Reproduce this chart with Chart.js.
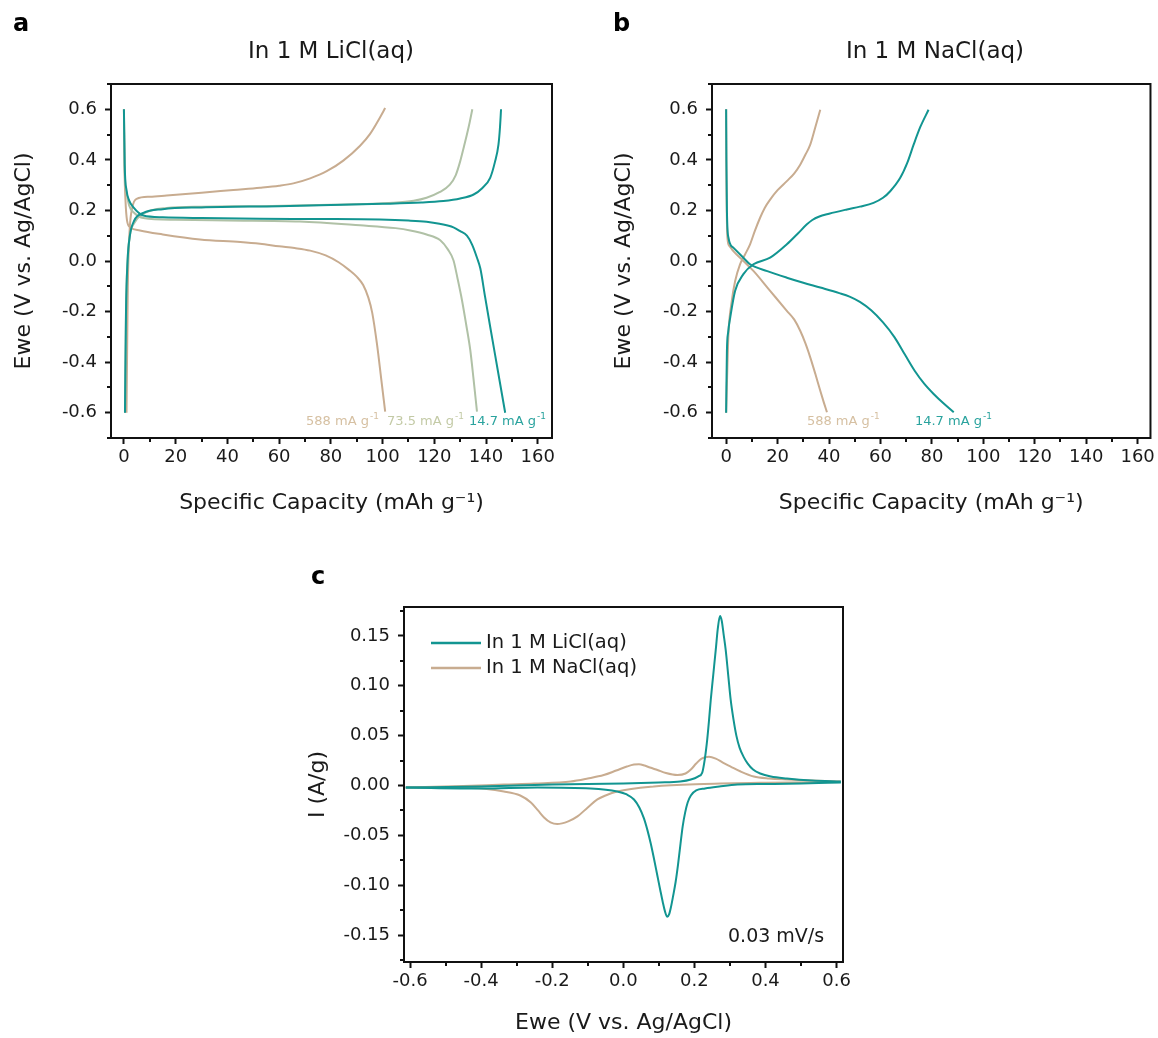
<!DOCTYPE html>
<html><head><meta charset="utf-8">
<script src="https://cdn.jsdelivr.net/npm/chart.js@4.4.1/dist/chart.umd.min.js"></script>
<style>
html,body{margin:0;padding:0;background:#fff;}
#wrap{position:relative;width:1158px;height:1038px;overflow:hidden;background:#fff;}
canvas{position:absolute;display:block;}
</style></head><body>
<div id="wrap">
<canvas id="ca" width="580" height="540" style="left:0;top:0;width:580px;height:540px"></canvas>
<canvas id="cb" width="558" height="540" style="left:600px;top:0;width:558px;height:540px"></canvas>
<canvas id="cc" width="558" height="478" style="left:300px;top:560px;width:558px;height:478px"></canvas>
</div>
<script>
// ---------- Panel a: 1 M LiCl, galvanostatic charge/discharge ----------
const li147ChgCap = [0.4, 0.8, 1.4, 2.3, 4, 7.5, 15, 30, 60, 100, 115, 123.5, 130, 135.2, 138.5, 141.6, 143.4, 144.8, 145.4, 145.8];
const li147ChgV   = [-0.6, -0.2, 0.0, 0.1, 0.16, 0.19, 0.205, 0.212, 0.217, 0.226, 0.231, 0.237, 0.247, 0.263, 0.288, 0.329, 0.39, 0.46, 0.53, 0.6];
const li147DisCap = [0, 0.3, 1, 2, 3.6, 7.5, 15, 30, 52.6, 75, 99, 110, 117, 122, 127.4, 130, 132.6, 134.6, 136.5, 137.8, 139.6, 141.6, 144.5, 147.4];
const li147DisV   = [0.6, 0.38, 0.28, 0.24, 0.213, 0.18, 0.173, 0.17, 0.167, 0.166, 0.164, 0.16, 0.155, 0.147, 0.133, 0.118, 0.1, 0.065, 0.013, -0.03, -0.14, -0.26, -0.43, -0.6];
const li735ChgCap = [0.4, 0.8, 1.4, 2.3, 4, 7.5, 16.5, 30, 52.6, 80, 104, 112, 117, 122, 126, 128.3, 130, 131.4, 132.6, 133.7, 134.7];
const li735ChgV   = [-0.6, -0.2, 0.0, 0.1, 0.15, 0.187, 0.21, 0.215, 0.217, 0.222, 0.23, 0.238, 0.25, 0.272, 0.302, 0.34, 0.394, 0.45, 0.5, 0.55, 0.6];
const li735DisCap = [0, 0.3, 1, 2, 4, 7.5, 20, 40, 68, 91.3, 105, 110.7, 117, 122.3, 125.3, 127.4, 129, 130.7, 132.3, 133.9, 135.2, 136.5];
const li735DisV   = [0.6, 0.36, 0.27, 0.22, 0.19, 0.17, 0.163, 0.16, 0.156, 0.141, 0.13, 0.121, 0.105, 0.082, 0.045, 0.003, -0.07, -0.155, -0.25, -0.352, -0.47, -0.596];
const li588ChgCap = [1, 1.5, 2.2, 3.2, 4.9, 10, 16.5, 30, 42.3, 52.6, 60, 65.5, 72, 78.4, 84.8, 91.3, 95.1, 99, 101];
const li588ChgV   = [-0.6, -0.1, 0.12, 0.21, 0.246, 0.254, 0.259, 0.27, 0.281, 0.29, 0.298, 0.307, 0.327, 0.355, 0.397, 0.456, 0.502, 0.568, 0.605];
const li588DisCap = [0, 0.2, 0.6, 1.2, 2.4, 6.2, 15, 29.4, 45, 52.6, 60, 66, 72, 78, 83, 87, 90, 92.5, 94.5, 96, 97.8, 99.4, 101];
const li588DisV   = [0.6, 0.38, 0.24, 0.16, 0.134, 0.121, 0.105, 0.085, 0.075, 0.068, 0.058, 0.051, 0.041, 0.022, -0.005, -0.035, -0.062, -0.095, -0.145, -0.205, -0.326, -0.46, -0.596];

// ---------- Panel b: 1 M NaCl ----------
const na147ChgCap = [0, 0.1, 0.3, 0.8, 1.6, 3.5, 6.7, 10.6, 17.1, 23.6, 28, 31.4, 33.5, 36, 40, 47, 52, 57.3, 61, 63.8, 67.7, 70.5, 72.9, 75.5, 78.7];
const na147ChgV   = [-0.6, -0.5, -0.355, -0.28, -0.223, -0.118, -0.052, -0.013, 0.013, 0.066, 0.11, 0.145, 0.162, 0.175, 0.187, 0.204, 0.215, 0.23, 0.25, 0.276, 0.329, 0.39, 0.46, 0.53, 0.598];
const na147DisCap = [0, 0.1, 0.3, 0.9, 2.8, 6.7, 9.3, 16, 23.6, 30, 36.6, 44, 48, 52, 56.4, 61, 65.5, 69.5, 73.3, 77, 80.7, 84.5, 88.5];
const na147DisV   = [0.6, 0.4, 0.2, 0.092, 0.053, 0.013, -0.013, -0.04, -0.066, -0.086, -0.105, -0.127, -0.141, -0.162, -0.195, -0.243, -0.302, -0.37, -0.434, -0.485, -0.526, -0.563, -0.598];
const na588ChgCap = [0, 0.3, 0.9, 2.2, 3.5, 5.4, 7.3, 9.3, 11.2, 13.2, 15, 17.1, 20, 23.6, 26.5, 28.8, 30.8, 32.7, 34.7, 36.6];
const na588ChgV   = [-0.6, -0.486, -0.289, -0.158, -0.079, -0.013, 0.025, 0.066, 0.12, 0.171, 0.21, 0.243, 0.28, 0.316, 0.347, 0.381, 0.42, 0.46, 0.53, 0.598];
const na588DisCap = [0, 0.1, 0.5, 1.2, 2.8, 6.7, 10.6, 17.1, 23.6, 26.5, 28.8, 30.8, 32.7, 34.7, 36.6, 38, 39.2];
const na588DisV   = [0.6, 0.35, 0.092, 0.06, 0.039, 0.0, -0.039, -0.118, -0.197, -0.232, -0.276, -0.325, -0.381, -0.447, -0.513, -0.56, -0.598];

// ---------- Panel c: CV at 0.03 mV/s ----------
const liAnodicE   = [-0.612, -0.4, -0.2, 0.0, 0.1, 0.16, 0.19, 0.21, 0.222, 0.229, 0.236, 0.241, 0.246, 0.253, 0.26, 0.266, 0.272, 0.277, 0.282, 0.288, 0.295, 0.302, 0.31, 0.318, 0.327, 0.338, 0.35, 0.365, 0.385, 0.415, 0.46, 0.53, 0.612];
const liAnodicI   = [-0.002, -0.001, 0.001, 0.002, 0.003, 0.004, 0.006, 0.009, 0.013, 0.026, 0.046, 0.065, 0.086, 0.111, 0.136, 0.158, 0.170, 0.165, 0.152, 0.136, 0.111, 0.086, 0.066, 0.05, 0.038, 0.029, 0.022, 0.016, 0.012, 0.009, 0.007, 0.005, 0.004];
const liCathodicE = [-0.612, -0.4, -0.242, -0.092, -0.017, 0.01, 0.03, 0.045, 0.058, 0.068, 0.077, 0.086, 0.095, 0.104, 0.111, 0.117, 0.1237, 0.129, 0.134, 0.14, 0.147, 0.154, 0.161, 0.167, 0.174, 0.181, 0.19, 0.205, 0.23, 0.27, 0.321, 0.4, 0.5, 0.612];
const liCathodicI = [-0.002, -0.003, -0.002, -0.003, -0.006, -0.009, -0.014, -0.022, -0.033, -0.045, -0.058, -0.073, -0.089, -0.105, -0.117, -0.126, -0.1317, -0.129, -0.122, -0.111, -0.097, -0.079, -0.058, -0.041, -0.027, -0.017, -0.01, -0.005, -0.003, -0.001, 0.001, 0.0015, 0.002, 0.003];
const naAnodicE   = [-0.612, -0.45, -0.336, -0.25, -0.148, -0.1, -0.055, -0.02, 0.01, 0.03, 0.044, 0.06, 0.075, 0.096, 0.12, 0.152, 0.175, 0.19, 0.205, 0.22, 0.241, 0.26, 0.28, 0.302, 0.33, 0.367, 0.41, 0.461, 0.53, 0.612];
const naAnodicI   = [-0.002, -0.0005, 0.001, 0.002, 0.004, 0.007, 0.0105, 0.015, 0.019, 0.021, 0.0213, 0.02, 0.018, 0.0155, 0.0125, 0.0105, 0.012, 0.016, 0.022, 0.027, 0.0289, 0.027, 0.023, 0.019, 0.014, 0.009, 0.007, 0.006, 0.005, 0.004];
const naCathodicE = [-0.612, -0.429, -0.336, -0.29, -0.26, -0.24, -0.223, -0.205, -0.186, -0.155, -0.129, -0.1, -0.073, -0.05, -0.017, 0.086, 0.227, 0.4, 0.612];
const naCathodicI = [-0.002, -0.0025, -0.006, -0.01, -0.017, -0.025, -0.032, -0.037, -0.0387, -0.036, -0.031, -0.022, -0.014, -0.01, -0.006, -0.001, 0.0015, 0.0028, 0.0035];

// ---------- Ticks ----------
const capTicks   = [0, 20, 40, 60, 80, 100, 120, 140, 160];
const capMinor   = [10, 30, 50, 70, 90, 110, 130, 150];
const ewTicks    = [-0.6, -0.4, -0.2, 0.0, 0.2, 0.4, 0.6];
const ewMinor    = [-0.7, -0.5, -0.3, -0.1, 0.1, 0.3, 0.5, 0.7];
const cvETicks   = [-0.6, -0.4, -0.2, 0.0, 0.2, 0.4, 0.6];
const cvEMinor   = [-0.5, -0.3, -0.1, 0.1, 0.3, 0.5];
const cvITicks   = [-0.15, -0.10, -0.05, 0.00, 0.05, 0.10, 0.15];
const cvIMinor   = [-0.175, -0.125, -0.075, -0.025, 0.025, 0.075, 0.125, 0.175];

// ---------- Labels ----------
const rateLabels = ['588 mA g', '73.5 mA g', '14.7 mA g'];
const legendLabels = ['In 1 M LiCl(aq)', 'In 1 M NaCl(aq)'];

// ---------- Styling ----------
const FONT = '"DejaVu Sans", "Liberation Sans", Arial, sans-serif';
Chart.defaults.font.family = FONT;
const TEAL = '#129591', SAGE = '#b0c1a6', TAN = '#c8ac90';
const INK = '#1a1a1a';

const pts = (xs, ys) => xs.map((x, i) => ({x, y: ys[i]}));
const line = (xs, ys, color) => ({data: pts(xs, ys), borderColor: color, borderWidth: 2, pointRadius: 0, showLine: true, fill: false, cubicInterpolationMode: 'monotone'});

function makeScale(o) {
  return {
    type: 'linear', min: o.min, max: o.max,
    afterBuildTicks: s => { s.ticks = o.ticks.map(v => ({value: v})); },
    afterFit: s => { if (o.horizontal) s.height = o.size; else s.width = o.size; },
    ticks: {font: {family: FONT, size: 18}, color: INK, padding: o.tickPad, maxRotation: 0, autoSkip: false,
            callback: v => Number(v).toFixed(o.dec)},
    grid: {display: true, drawOnChartArea: false, drawTicks: true, tickLength: 6, tickWidth: 2, tickColor: '#111', color: '#111'},
    border: {display: false},
    title: {display: true, text: o.title, font: {family: FONT, size: 22}, color: INK, padding: o.titlePad}
  };
}

const framePlugin = {
  id: 'frame',
  afterDraw(chart, args, opts) {
    const {ctx, chartArea: a, scales} = chart;
    ctx.save();
    ctx.strokeStyle = '#111'; ctx.lineWidth = 2;
    ctx.strokeRect(a.left, a.top, a.right - a.left, a.bottom - a.top);
    (opts.x || []).forEach(v => {
      const px = Math.round(scales.x.getPixelForValue(v));
      ctx.beginPath(); ctx.moveTo(px, a.bottom); ctx.lineTo(px, a.bottom + 4); ctx.stroke();
    });
    (opts.y || []).forEach(v => {
      const py = Math.round(scales.y.getPixelForValue(v));
      ctx.beginPath(); ctx.moveTo(a.left, py); ctx.lineTo(a.left - 4, py); ctx.stroke();
    });
    ctx.restore();
  }
};

const textPlugin = {
  id: 'panelText',
  afterDraw(chart, args, opts) {
    const {ctx, scales} = chart;
    (opts.items || []).forEach(it => {
      let x = it.x, y = it.y;
      if (it.data) { x = scales.x.getPixelForValue(it.x); y = scales.y.getPixelForValue(it.y); }
      ctx.save();
      ctx.fillStyle = it.color || INK;
      ctx.textBaseline = 'middle';
      ctx.textAlign = 'left';
      const mainFont = `${it.weight || 'normal'} ${it.size}px ${FONT}`;
      const supSize = Math.round(it.size * 0.68);
      const supFont = `normal ${supSize}px ${FONT}`;
      ctx.font = mainFont;
      const w = ctx.measureText(it.text).width;
      let sw = 0;
      if (it.sup) { ctx.font = supFont; sw = ctx.measureText(it.sup).width + 1; ctx.font = mainFont; }
      const x0 = it.align === 'center' ? x - (w + sw) / 2 : it.align === 'right' ? x - (w + sw) : x;
      ctx.fillText(it.text, x0, y);
      if (it.sup) { ctx.font = supFont; ctx.fillText(it.sup, x0 + w + 1, y - it.size * 0.4); }
      ctx.restore();
    });
  }
};

const legendPlugin = {
  id: 'cvLegend',
  afterDraw(chart, args, opts) {
    if (!opts.items) return;
    const {ctx} = chart;
    ctx.save();
    opts.items.forEach((it, i) => {
      const y = opts.y + i * opts.gap;
      ctx.strokeStyle = it.color; ctx.lineWidth = 2.5;
      ctx.beginPath(); ctx.moveTo(opts.x, y); ctx.lineTo(opts.x + opts.len, y); ctx.stroke();
      ctx.fillStyle = INK; ctx.font = `${opts.size}px ${FONT}`;
      ctx.textBaseline = 'middle'; ctx.textAlign = 'left';
      ctx.fillText(it.text, opts.x + opts.len + 5, y);
    });
    ctx.restore();
  }
};

const plugs = [framePlugin, textPlugin, legendPlugin];
const baseOpts = {responsive: false, animation: false, events: []};

// ---------- Panel a ----------
new Chart(document.getElementById('ca'), {
  type: 'scatter',
  data: {datasets: [
    line(li147ChgCap, li147ChgV, TEAL), line(li147DisCap, li147DisV, TEAL),
    line(li735ChgCap, li735ChgV, SAGE), line(li735DisCap, li735DisV, SAGE),
    line(li588ChgCap, li588ChgV, TAN),  line(li588DisCap, li588DisV, TAN)
  ]},
  options: Object.assign({}, baseOpts, {
    layout: {padding: {left: 0, top: 84, right: 28, bottom: 0}},
    scales: {
      x: makeScale({min: -5, max: 165.5, ticks: capTicks, dec: 0, horizontal: true, size: 102, tickPad: 3,
                    title: 'Specific Capacity (mAh g\u207B\u00B9)', titlePad: {top: 0, bottom: 24}}),
      y: makeScale({min: -0.7, max: 0.7, ticks: ewTicks, dec: 1, size: 111, tickPad: 8,
                    title: 'Ewe (V vs. Ag/AgCl)', titlePad: {top: 11, bottom: 0}})
    },
    plugins: {
      legend: {display: false}, tooltip: {enabled: false},
      frame: {x: capMinor, y: ewMinor},
      panelText: {items: [
        {text: 'a', x: 13, y: 25, size: 24, weight: 'bold', color: '#000'},
        {text: 'In 1 M LiCl(aq)', x: 331, y: 52, size: 23, align: 'center'},
        {text: rateLabels[0], sup: '-1', data: true, x: 70.4, y: -0.637, size: 13, color: '#d6c0a2'},
        {text: rateLabels[1], sup: '-1', data: true, x: 101.7, y: -0.637, size: 13, color: '#c3caa6'},
        {text: rateLabels[2], sup: '-1', data: true, x: 133.4, y: -0.637, size: 13, color: '#2aa39e'}
      ]}
    }
  }),
  plugins: plugs
});

// ---------- Panel b ----------
new Chart(document.getElementById('cb'), {
  type: 'scatter',
  data: {datasets: [
    line(na147ChgCap, na147ChgV, TEAL), line(na147DisCap, na147DisV, TEAL),
    line(na588ChgCap, na588ChgV, TAN),  line(na588DisCap, na588DisV, TAN)
  ]},
  options: Object.assign({}, baseOpts, {
    layout: {padding: {left: 0, top: 84, right: 7, bottom: 0}},
    scales: {
      x: makeScale({min: -5.5, max: 165, ticks: capTicks, dec: 0, horizontal: true, size: 102, tickPad: 3,
                    title: 'Specific Capacity (mAh g\u207B\u00B9)', titlePad: {top: 0, bottom: 24}}),
      y: makeScale({min: -0.7, max: 0.7, ticks: ewTicks, dec: 1, size: 112, tickPad: 8,
                    title: 'Ewe (V vs. Ag/AgCl)', titlePad: {top: 11, bottom: 0}})
    },
    plugins: {
      legend: {display: false}, tooltip: {enabled: false},
      frame: {x: capMinor, y: ewMinor},
      panelText: {items: [
        {text: 'b', x: 13, y: 25, size: 24, weight: 'bold', color: '#000'},
        {text: 'In 1 M NaCl(aq)', x: 335, y: 52, size: 23, align: 'center'},
        {text: rateLabels[0], sup: '-1', data: true, x: 31.4, y: -0.637, size: 13, color: '#d6c0a2'},
        {text: rateLabels[2], sup: '-1', data: true, x: 73.4, y: -0.637, size: 13, color: '#2aa39e'}
      ]}
    }
  }),
  plugins: plugs
});

// ---------- Panel c ----------
new Chart(document.getElementById('cc'), {
  type: 'scatter',
  data: {datasets: [
    line(liAnodicE, liAnodicI, TEAL), line(liCathodicE, liCathodicI, TEAL),
    line(naAnodicE, naAnodicI, TAN),  line(naCathodicE, naCathodicI, TAN)
  ]},
  options: Object.assign({}, baseOpts, {
    layout: {padding: {left: 0, top: 47, right: 15, bottom: 0}},
    scales: {
      x: makeScale({min: -0.617, max: 0.618, ticks: cvETicks, dec: 1, horizontal: true, size: 76, tickPad: 3,
                    title: 'Ewe (V vs. Ag/AgCl)', titlePad: {top: 0, bottom: 2}}),
      y: makeScale({min: -0.177, max: 0.179, ticks: cvITicks, dec: 2, size: 104, tickPad: 8,
                    title: 'I (A/g)', titlePad: {top: 5, bottom: 0}})
    },
    plugins: {
      legend: {display: false}, tooltip: {enabled: false},
      frame: {x: cvEMinor, y: cvIMinor},
      panelText: {items: [
        {text: 'c', x: 11, y: 18, size: 24, weight: 'bold', color: '#000'},
        {text: '0.03 mV/s', x: 428, y: 377, size: 19}
      ]},
      cvLegend: {x: 131, y: 83, gap: 25, len: 50, size: 19.5,
                 items: [{text: legendLabels[0], color: TEAL}, {text: legendLabels[1], color: TAN}]}
    }
  }),
  plugins: plugs
});
</script>
</body></html>
